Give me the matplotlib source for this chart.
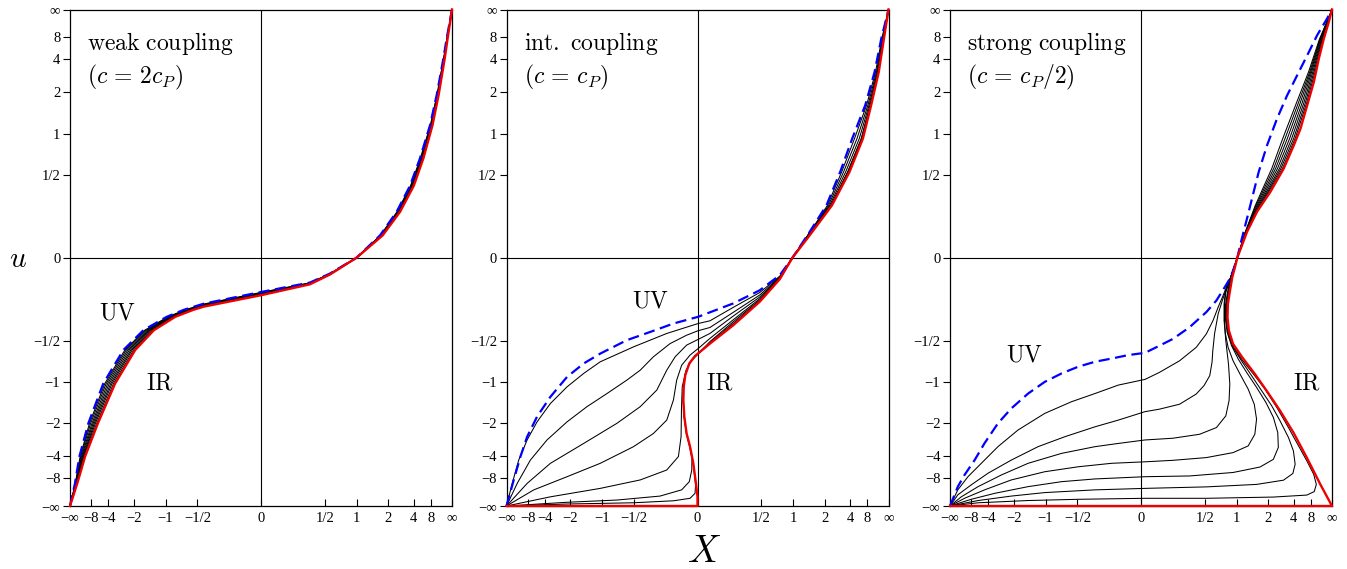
import numpy as np
import matplotlib
matplotlib.use('Agg')
import matplotlib.pyplot as plt

plt.rcParams['mathtext.fontset'] = 'cm'
plt.rcParams['font.family'] = ['Liberation Serif', 'DejaVu Serif']

# both axes are compactified: s = v / (1 + |v|)
tick_vals = [-np.inf, -8, -4, -2, -1, -0.5, 0, 0.5, 1, 2, 4, 8, np.inf]
tick_labels = ['−∞', '−8', '−4', '−2', '−1', '−1/2', '0', '1/2', '1', '2', '4', '8', '∞']

# ---------------- panel 1 : weak coupling (compact coordinates) ----------------
p1_left_u = [-1, -0.909, -0.801, -0.667, -0.507, -0.372, -0.292, -0.238, -0.21]
p1_mid_x = [-0.30, 0.0, 0.256, 0.36, 0.5]
p1_right_u = [0.09, 0.185, 0.29, 0.40, 0.534, 0.656, 0.803, 0.883, 1.0]

p1_uv_left = [-1.000, -0.974, -0.951, -0.904, -0.826, -0.721, -0.616, -0.494, -0.405]
p1_uv_mid = [-0.185, -0.138, -0.100, -0.064, 0.0]
p1_uv_right = [0.623, 0.710, 0.780, 0.832, 0.885, 0.920, 0.955, 0.972, 1.0]

p1_ir_left = [-1.000, -0.962, -0.921, -0.854, -0.764, -0.659, -0.561, -0.449, -0.355]
p1_ir_mid = [-0.197, -0.151, -0.107, -0.068, 0.0]
p1_ir_right = [0.637, 0.728, 0.800, 0.850, 0.898, 0.930, 0.962, 0.977, 1.0]

p1_flow_left = [
    [-1.000, -0.9725, -0.947, -0.898, -0.818, -0.713, -0.609, -0.488, -0.398],
    [-1.000, -0.971, -0.944, -0.892, -0.811, -0.706, -0.602, -0.483, -0.392],
    [-1.000, -0.9695, -0.940, -0.885, -0.803, -0.698, -0.595, -0.477, -0.386],
    [-1.000, -0.968, -0.936, -0.879, -0.795, -0.690, -0.589, -0.472, -0.380],
    [-1.000, -0.9665, -0.932, -0.873, -0.787, -0.682, -0.582, -0.466, -0.373],
    [-1.000, -0.965, -0.929, -0.867, -0.780, -0.675, -0.575, -0.460, -0.367],
    [-1.000, -0.9635, -0.925, -0.860, -0.772, -0.667, -0.568, -0.455, -0.361],
]
p1_flow_mid = [
    [-0.1865, -0.1396, -0.1009, -0.0645, 0],
    [-0.188, -0.141, -0.102, -0.065, 0],
    [-0.1895, -0.143, -0.1026, -0.0655, 0],
    [-0.191, -0.1445, -0.1035, -0.066, 0],
    [-0.1925, -0.146, -0.1044, -0.0665, 0],
    [-0.194, -0.148, -0.105, -0.067, 0],
    [-0.1955, -0.149, -0.106, -0.0675, 0],
]
p1_flow_right = [
    [0.625, 0.712, 0.783, 0.834, 0.887, 0.921, 0.956, 0.973, 1],
    [0.627, 0.715, 0.785, 0.837, 0.888, 0.923, 0.957, 0.973, 1],
    [0.628, 0.717, 0.788, 0.839, 0.890, 0.924, 0.958, 0.974, 1],
    [0.630, 0.719, 0.790, 0.841, 0.892, 0.925, 0.959, 0.975, 1],
    [0.632, 0.721, 0.793, 0.843, 0.893, 0.926, 0.959, 0.975, 1],
    [0.634, 0.724, 0.795, 0.846, 0.895, 0.928, 0.960, 0.976, 1],
    [0.635, 0.726, 0.798, 0.848, 0.896, 0.929, 0.961, 0.976, 1],
]

# ---------------- panel 2 : intermediate coupling ----------------
p2_uv = [(-1, -1), (-0.962, -0.895), (-0.927, -0.801), (-0.892, -0.721), (-0.840, -0.640),
         (-0.770, -0.560), (-0.683, -0.480), (-0.596, -0.426), (-0.509, -0.386),
         (-0.370, -0.332), (-0.248, -0.299), (-0.126, -0.265), (0.003, -0.238),
         (0.187, -0.184), (0.326, -0.131), (0.431, -0.070), (0.497, 0), (0.587, 0.104),
         (0.675, 0.211), (0.747, 0.346), (0.810, 0.480), (0.878, 0.614), (0.927, 0.748),
         (0.962, 0.882), (1, 1)]
p2_ir = [(-1, -1), (0, -1), (0, -0.963), (-0.008, -0.909), (-0.022, -0.828), (-0.039, -0.761),
         (-0.057, -0.708), (-0.069, -0.640), (-0.074, -0.573), (-0.072, -0.520),
         (-0.064, -0.473), (-0.043, -0.426), (-0.013, -0.396), (0.013, -0.379),
         (0.065, -0.346), (0.187, -0.272), (0.326, -0.177), (0.431, -0.086), (0.497, 0),
         (0.587, 0.09), (0.704, 0.211), (0.796, 0.346), (0.866, 0.480), (0.909, 0.614),
         (0.949, 0.748), (0.976, 0.882), (1, 1)]
p2_flow_low = [
    [(-1, -1), (-0.970, -0.909), (-0.936, -0.815), (-0.892, -0.734), (-0.840, -0.661),
     (-0.770, -0.587), (-0.683, -0.520), (-0.596, -0.466), (-0.509, -0.419),
     (-0.335, -0.359), (-0.161, -0.305), (0.003, -0.265), (0.065, -0.254)],
    [(-1, -1), (-0.944, -0.909), (-0.875, -0.815), (-0.788, -0.734), (-0.683, -0.661),
     (-0.579, -0.600), (-0.474, -0.547), (-0.370, -0.493), (-0.300, -0.453),
     (-0.231, -0.399), (-0.144, -0.346), (-0.057, -0.312), (0.003, -0.294), (0.065, -0.281)],
    [(-1, -1), (-0.892, -0.909), (-0.770, -0.828), (-0.596, -0.748), (-0.422, -0.667),
     (-0.300, -0.600), (-0.213, -0.533), (-0.161, -0.453), (-0.117, -0.399),
     (-0.057, -0.352), (0.003, -0.329), (0.065, -0.305)],
    [(-1, -1), (-0.857, -0.935), (-0.683, -0.882), (-0.509, -0.828), (-0.335, -0.761),
     (-0.231, -0.708), (-0.161, -0.654), (-0.126, -0.573), (-0.109, -0.493),
     (-0.083, -0.433), (-0.039, -0.392), (0.003, -0.366), (0.065, -0.325)],
    [(-1, -1), (-0.770, -0.963), (-0.509, -0.929), (-0.300, -0.895), (-0.161, -0.855),
     (-0.100, -0.801), (-0.086, -0.721), (-0.084, -0.613), (-0.080, -0.520),
     (-0.060, -0.453), (-0.030, -0.413), (0.003, -0.388), (0.065, -0.338)],
    [(-1, -1), (-0.683, -0.985), (-0.422, -0.976), (-0.196, -0.960), (-0.083, -0.935),
     (-0.043, -0.902), (-0.030, -0.855), (-0.029, -0.808), (-0.041, -0.761),
     (-0.058, -0.708), (-0.070, -0.640), (-0.075, -0.573), (-0.073, -0.520),
     (-0.065, -0.473), (-0.044, -0.426), (-0.014, -0.396), (0.013, -0.380), (0.065, -0.343)],
    [(-1, -1), (-0.683, -0.992), (-0.335, -0.987), (-0.126, -0.979), (-0.039, -0.969),
     (-0.013, -0.949), (-0.010, -0.915), (-0.023, -0.828), (-0.040, -0.761),
     (-0.058, -0.708), (-0.070, -0.640), (-0.075, -0.573), (-0.073, -0.520),
     (-0.065, -0.473), (-0.044, -0.426), (-0.014, -0.396), (0.013, -0.380), (0.065, -0.344)],
]
p2_mid_x = [0.187, 0.326, 0.431, 0.497]
p2_flow_mid = [
    [-0.200, -0.140, -0.074, 0],
    [-0.220, -0.150, -0.077, 0],
    [-0.235, -0.158, -0.080, 0],
    [-0.250, -0.165, -0.083, 0],
    [-0.258, -0.170, -0.085, 0],
    [-0.265, -0.174, -0.085, 0],
    [-0.268, -0.176, -0.086, 0],
]
p2_up_u = [0.1, 0.211, 0.346, 0.48, 0.614, 0.748, 0.882, 1.0]
p2_flow_up = [
    [0.587, 0.680, 0.755, 0.822, 0.885, 0.932, 0.965, 1],
    [0.587, 0.686, 0.765, 0.835, 0.892, 0.937, 0.968, 1],
    [0.587, 0.692, 0.776, 0.847, 0.898, 0.941, 0.971, 1],
    [0.587, 0.698, 0.786, 0.857, 0.903, 0.945, 0.973, 1],
    [0.587, 0.699, 0.788, 0.859, 0.905, 0.946, 0.974, 1],
    [0.587, 0.700, 0.790, 0.861, 0.906, 0.947, 0.974, 1],
    [0.587, 0.701, 0.792, 0.863, 0.907, 0.948, 0.975, 1],
]

# ---------------- panel 3 : strong coupling ----------------
p3_uv = [(-1, -1), (-0.959, -0.922), (-0.924, -0.875), (-0.871, -0.815), (-0.819, -0.747),
         (-0.749, -0.667), (-0.679, -0.607), (-0.591, -0.547), (-0.504, -0.500),
         (-0.416, -0.466), (-0.329, -0.439), (-0.241, -0.419), (-0.154, -0.406),
         (-0.066, -0.392), (0.021, -0.383), (0.079, -0.361), (0.167, -0.327),
         (0.254, -0.280), (0.342, -0.219), (0.395, -0.172), (0.439, -0.118),
         (0.470, -0.078), (0.488, -0.038), (0.504, 0), (0.528, 0.077), (0.555, 0.158),
         (0.581, 0.238), (0.616, 0.345), (0.660, 0.453), (0.712, 0.560), (0.765, 0.654),
         (0.817, 0.734), (0.870, 0.815), (0.922, 0.896), (0.974, 0.963), (1, 1)]
p3_ir = [(-1, -1), (1, -1), (0.939, -0.913), (0.868, -0.805), (0.798, -0.704), (0.728, -0.616),
         (0.658, -0.536), (0.596, -0.468), (0.530, -0.401), (0.482, -0.347), (0.460, -0.293),
         (0.453, -0.240), (0.455, -0.186), (0.466, -0.132), (0.478, -0.078), (0.492, -0.038),
         (0.504, 0), (0.555, 0.104), (0.607, 0.185), (0.677, 0.265), (0.747, 0.359),
         (0.800, 0.453), (0.835, 0.520), (0.870, 0.614), (0.905, 0.708), (0.931, 0.802),
         (0.957, 0.882), (0.983, 0.949), (1, 1)]
p3_flow_low = [
    [(-1, -1), (-0.959, -0.935), (-0.906, -0.882), (-0.836, -0.828), (-0.749, -0.761),
     (-0.644, -0.694), (-0.504, -0.627), (-0.364, -0.580), (-0.241, -0.547),
     (-0.119, -0.513), (0.021, -0.490), (0.096, -0.462), (0.202, -0.415), (0.289, -0.361),
     (0.342, -0.307), (0.377, -0.253), (0.404, -0.199), (0.426, -0.159), (0.444, -0.125)],
    [(-1, -1), (-0.959, -0.955), (-0.889, -0.915), (-0.801, -0.868), (-0.679, -0.815),
     (-0.539, -0.761), (-0.399, -0.721), (-0.241, -0.681), (-0.119, -0.654),
     (0.021, -0.620), (0.096, -0.610), (0.202, -0.590), (0.289, -0.549), (0.330, -0.515),
     (0.360, -0.475), (0.372, -0.420), (0.376, -0.374), (0.385, -0.307), (0.404, -0.226),
     (0.426, -0.172), (0.444, -0.132)],
    [(-1, -1), (-0.941, -0.963), (-0.853, -0.922), (-0.731, -0.875), (-0.591, -0.828),
     (-0.416, -0.788), (-0.241, -0.761), (-0.119, -0.748), (0.021, -0.734), (0.167, -0.727),
     (0.307, -0.711), (0.395, -0.684), (0.444, -0.637), (0.461, -0.576), (0.465, -0.509),
     (0.458, -0.428), (0.444, -0.334), (0.435, -0.253), (0.435, -0.186), (0.442, -0.139)],
    [(-1, -1), (-0.924, -0.969), (-0.819, -0.935), (-0.679, -0.895), (-0.504, -0.862),
     (-0.329, -0.842), (-0.154, -0.828), (0.021, -0.822), (0.167, -0.816), (0.342, -0.805),
     (0.482, -0.785), (0.561, -0.758), (0.596, -0.711), (0.605, -0.650), (0.593, -0.590),
     (0.561, -0.529), (0.518, -0.468), (0.482, -0.415), (0.456, -0.361), (0.442, -0.307),
     (0.437, -0.253), (0.437, -0.192), (0.444, -0.139)],
    [(-1, -1), (-0.889, -0.973), (-0.766, -0.949), (-0.591, -0.922), (-0.416, -0.902),
     (-0.241, -0.891), (0.021, -0.882), (0.254, -0.879), (0.482, -0.865), (0.623, -0.843),
     (0.693, -0.812), (0.719, -0.764), (0.716, -0.704), (0.693, -0.643), (0.654, -0.583),
     (0.605, -0.522), (0.553, -0.462), (0.509, -0.408), (0.474, -0.354), (0.451, -0.300),
     (0.442, -0.246), (0.442, -0.192), (0.453, -0.139)],
    [(-1, -1), (-0.853, -0.978), (-0.679, -0.960), (-0.504, -0.946), (-0.241, -0.935),
     (0.021, -0.929), (0.342, -0.923), (0.605, -0.913), (0.746, -0.896), (0.795, -0.869),
     (0.807, -0.832), (0.798, -0.778), (0.772, -0.724), (0.728, -0.657), (0.684, -0.596),
     (0.632, -0.536), (0.579, -0.475), (0.526, -0.415), (0.482, -0.361), (0.456, -0.307),
     (0.446, -0.253), (0.446, -0.192), (0.456, -0.139)],
    [(-1, -1), (-0.853, -0.987), (-0.591, -0.978), (-0.329, -0.973), (0.021, -0.969),
     (0.342, -0.969), (0.693, -0.964), (0.868, -0.956), (0.907, -0.942), (0.918, -0.913),
     (0.904, -0.872), (0.868, -0.818), (0.825, -0.758), (0.772, -0.684), (0.711, -0.603),
     (0.649, -0.529), (0.588, -0.468), (0.526, -0.408), (0.482, -0.354), (0.458, -0.300),
     (0.449, -0.246), (0.449, -0.192), (0.460, -0.139)],
]
p3_bundle = [(0.470, -0.078), (0.488, -0.038), (0.504, 0.0)]
p3_up_u = [0.1, 0.21, 0.36, 0.48, 0.62, 0.75, 0.88, 1.0]
p3_flow_up = [
    [0.544, 0.598, 0.685, 0.742, 0.812, 0.878, 0.934, 1],
    [0.545, 0.602, 0.695, 0.754, 0.822, 0.884, 0.937, 1],
    [0.546, 0.607, 0.705, 0.766, 0.832, 0.889, 0.940, 1],
    [0.547, 0.612, 0.715, 0.778, 0.842, 0.894, 0.944, 1],
    [0.548, 0.617, 0.725, 0.789, 0.851, 0.900, 0.947, 1],
    [0.549, 0.622, 0.733, 0.799, 0.859, 0.906, 0.950, 1],
    [0.550, 0.626, 0.741, 0.807, 0.866, 0.912, 0.953, 1],
]

panel_titles = [r'$\mathrm{weak\ coupling}$', r'$\mathrm{int.\ coupling}$', r'$\mathrm{strong\ coupling}$']
panel_subtitles = [r'$(c\,=\,2c_P)$', r'$(c\,=\,c_P)$', r'$(c\,=\,c_P/2)$']


def compact(v):
    if np.isinf(v):
        return float(np.sign(v))
    return v / (1 + abs(v))


def xy(pairs):
    return [p[0] for p in pairs], [p[1] for p in pairs]


fig = plt.figure(figsize=(13.47, 5.69), dpi=100)
lefts = [70 / 1347, 506.5 / 1347, 950 / 1347]
axes = [fig.add_axes([l, 63 / 569, 382 / 1347, 496.5 / 569]) for l in lefts]

black_kw = dict(color='black', lw=0.75, clip_on=False, zorder=3)
uv_kw = dict(color='#0000ff', lw=1.6, ls=(0, (5, 2.5)), clip_on=False, zorder=4)
ir_kw = dict(color='#ee0000', lw=1.7, clip_on=False, zorder=5)

# panel 1
ax = axes[0]
for lx, mu, rx in zip(p1_flow_left, p1_flow_mid, p1_flow_right):
    ax.plot(lx + p1_mid_x + rx, p1_left_u + mu + p1_right_u, **black_kw)
ax.plot(p1_uv_left + p1_mid_x + p1_uv_right, p1_left_u + p1_uv_mid + p1_right_u, **uv_kw)
ax.plot(p1_ir_left + p1_mid_x + p1_ir_right, p1_left_u + p1_ir_mid + p1_right_u, **ir_kw)

# panel 2
ax = axes[1]
for low, mu, ux in zip(p2_flow_low, p2_flow_mid, p2_flow_up):
    x0, y0 = xy(low)
    ax.plot(x0 + p2_mid_x + ux, y0 + mu + p2_up_u, **black_kw)
ax.plot(*xy(p2_uv), **uv_kw)
ax.plot(*xy(p2_ir), **ir_kw)

# panel 3
ax = axes[2]
for low, ux in zip(p3_flow_low, p3_flow_up):
    x0, y0 = xy(low + p3_bundle)
    ax.plot(x0 + ux, y0 + p3_up_u, **black_kw)
ax.plot(*xy(p3_uv), **uv_kw)
ax.plot(*xy(p3_ir), **ir_kw)

ticks = [compact(v) for v in tick_vals]
uv_pos = [(-0.749, -0.227), (-0.248, -0.179), (-0.609, -0.396)]
ir_pos = [(-0.529, -0.509), (0.117, -0.509), (0.866, -0.509)]
for i, ax in enumerate(axes):
    ax.set_xlim(-1, 1)
    ax.set_ylim(-1, 1)
    ax.axhline(0, color='black', lw=0.8, zorder=1)
    ax.axvline(0, color='black', lw=0.8, zorder=1)
    ax.set_xticks(ticks)
    ax.set_xticklabels(tick_labels)
    ax.set_yticks(ticks)
    ax.set_yticklabels(tick_labels)
    ax.tick_params(axis='x', direction='in', length=5, width=0.8, labelsize=10.5, pad=4)
    ax.tick_params(axis='y', direction='out', length=5, width=0.8, labelsize=10.5, pad=2)
    for s in ax.spines.values():
        s.set_linewidth(0.9)
    ax.text(-0.91, 0.865, panel_titles[i], fontsize=17, ha='left', va='center')
    ax.text(-0.91, 0.728, panel_subtitles[i], fontsize=17, ha='left', va='center')
    ax.text(*uv_pos[i], r'$\mathrm{UV}$', fontsize=17, ha='center', va='center')
    ax.text(*ir_pos[i], r'$\mathrm{IR}$', fontsize=17, ha='center', va='center')

fig.text(18 / 1347, 1 - 260 / 569, r'$u$', fontsize=21, ha='center', va='center')
fig.text(704 / 1347, 1 - 553 / 569, r'$X$', fontsize=27, ha='center', va='center')

fig.savefig('out.png', dpi=100)
